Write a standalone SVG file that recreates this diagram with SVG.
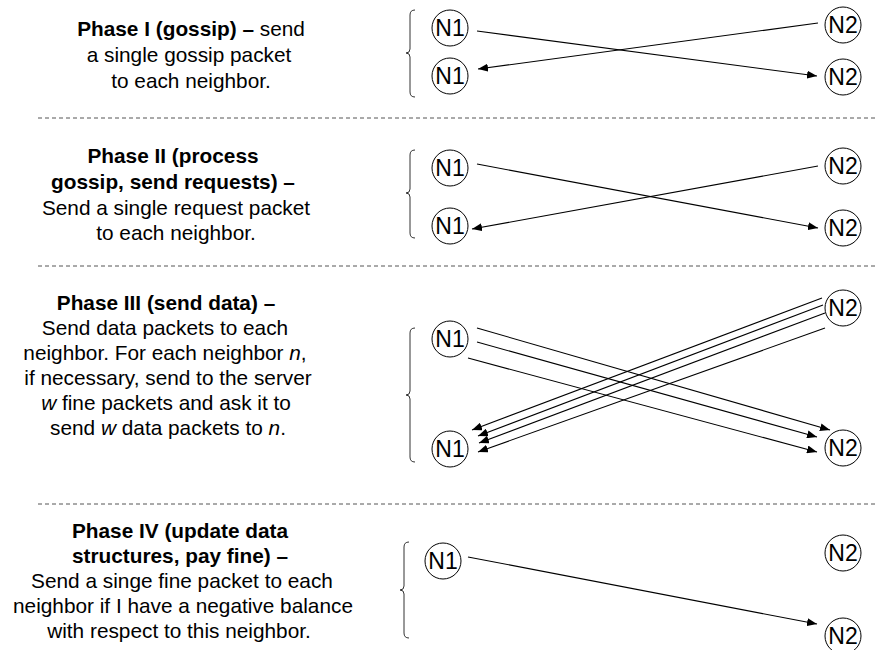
<svg xmlns="http://www.w3.org/2000/svg" width="877" height="650" viewBox="0 0 877 650">
  <defs>
    <marker id="arrow" viewBox="0 0 10 8" refX="10" refY="4" markerWidth="10" markerHeight="8" markerUnits="userSpaceOnUse" orient="auto">
      <path d="M0,0 L10,4 L0,8 Z" fill="#000"/>
    </marker>
    <style>
      .desc { font-family: "Liberation Sans", Arial, sans-serif; font-size: 20.8px; fill: #000; text-anchor: middle; }
      .b { font-weight: bold; }
      .i { font-style: italic; }
      .sep { stroke: #555; stroke-width: 1; stroke-dasharray: 4 3; fill: none; }
      .brace { stroke: #333; stroke-width: 1; fill: none; }
      .node circle { fill: #fff; stroke: #000; stroke-width: 1; }
      .node text { font-family: "Liberation Sans", Arial, sans-serif; font-size: 23px; fill: #000; text-anchor: middle; }
      .msg { stroke: #000; stroke-width: 1.1; fill: none; }
      .msg .arr { marker-end: url(#arrow); }
    </style>
  </defs>
  <rect width="877" height="650" fill="#fff"/>

  <!-- phase separators -->
  <g id="separators">
    <line class="sep" x1="38" y1="118" x2="877" y2="118"/>
    <line class="sep" x1="38" y1="266" x2="877" y2="266"/>
    <line class="sep" x1="38" y1="504" x2="877" y2="504"/>
  </g>

  <!-- phase descriptions -->
  <g id="phase1-text">
    <text class="desc" x="191" y="36"><tspan class="b">Phase I (gossip) –</tspan> send</text>
    <text class="desc" x="189" y="62">a single gossip packet</text>
    <text class="desc" x="191" y="88">to each neighbor.</text>
  </g>
  <g id="phase2-text">
    <text class="desc b" x="173" y="163">Phase II (process</text>
    <text class="desc b" x="173" y="189">gossip, send requests) –</text>
    <text class="desc" x="176" y="215">Send a single request packet</text>
    <text class="desc" x="176" y="240">to each neighbor.</text>
  </g>
  <g id="phase3-text">
    <text class="desc b" x="166" y="310">Phase III (send data) –</text>
    <text class="desc" x="165" y="335">Send data packets to each</text>
    <text class="desc" x="165" y="360">neighbor. For each neighbor <tspan class="i">n</tspan>,</text>
    <text class="desc" x="168" y="385">if necessary, send to the server</text>
    <text class="desc" x="166" y="410"><tspan class="i">w</tspan> fine packets and ask it to</text>
    <text class="desc" x="168" y="435">send <tspan class="i">w</tspan> data packets to <tspan class="i">n</tspan>.</text>
  </g>
  <g id="phase4-text">
    <text class="desc b" x="180" y="538">Phase IV (update data</text>
    <text class="desc b" x="180" y="563">structures, pay fine) –</text>
    <text class="desc" x="182" y="588">Send a singe fine packet to each</text>
    <text class="desc" x="183" y="613">neighbor if I have a negative balance</text>
    <text class="desc" x="179" y="638">with respect to this neighbor.</text>
  </g>

  <!-- braces grouping the two N1 rows of each phase -->
  <g id="braces">
    <path class="brace" d="M415,10 Q410,10 410,15 L410,49 Q410,53 406,53 Q410,53 410,57 L410,92 Q410,97 415,97"/>
    <path class="brace" d="M415,150 Q410,150 410,155 L410,189 Q410,193 406,193 Q410,193 410,197 L410,233 Q410,238 415,238"/>
    <path class="brace" d="M415,328 Q410,328 410,333 L410,391 Q410,395 406,395 Q410,395 410,399 L410,457 Q410,462 415,462"/>
    <path class="brace" d="M409,542 Q404,542 404,547 L404,586 Q404,590 400,590 Q404,590 404,594 L404,633 Q404,638 409,638"/>
  </g>

  <!-- message connectors -->
  <g id="connectors" class="msg">
    <!-- phase I -->
    <line class="arr" x1="477" y1="31" x2="817" y2="76"/>
    <line class="arr" x1="818" y1="23" x2="478" y2="69"/>
    <!-- phase II -->
    <line class="arr" x1="477" y1="164" x2="818" y2="228"/>
    <line class="arr" x1="818" y1="166" x2="472" y2="229"/>
    <!-- phase III: N1 to N2 -->
    <line class="arr" x1="477" y1="328" x2="830" y2="430"/>
    <line class="arr" x1="477" y1="342" x2="817" y2="437"/>
    <line class="arr" x1="468" y1="358" x2="817" y2="452"/>
    <!-- phase III: N2 to N1 -->
    <line class="arr" x1="822" y1="298" x2="472" y2="430"/>
    <line class="arr" x1="823" y1="305" x2="478" y2="436"/>
    <line class="arr" x1="825" y1="313" x2="479" y2="443"/>
    <line class="arr" x1="825" y1="328" x2="478" y2="452"/>
    <!-- phase IV -->
    <line class="arr" x1="468" y1="557" x2="817" y2="624"/>
  </g>

  <!-- nodes -->
  <g id="p1-n1-top" class="node"><circle cx="450" cy="28" r="18"/><text x="450" y="36">N1</text></g>
  <g id="p1-n1-bottom" class="node"><circle cx="450" cy="76" r="18"/><text x="450" y="84">N1</text></g>
  <g id="p1-n2-top" class="node"><circle cx="843" cy="25" r="18"/><text x="843" y="33">N2</text></g>
  <g id="p1-n2-bottom" class="node"><circle cx="843" cy="77" r="18"/><text x="843" y="85">N2</text></g>

  <g id="p2-n1-top" class="node"><circle cx="450" cy="168" r="18"/><text x="450" y="176">N1</text></g>
  <g id="p2-n1-bottom" class="node"><circle cx="450" cy="226" r="18"/><text x="450" y="234">N1</text></g>
  <g id="p2-n2-top" class="node"><circle cx="843" cy="166" r="18"/><text x="843" y="174">N2</text></g>
  <g id="p2-n2-bottom" class="node"><circle cx="843" cy="228" r="18"/><text x="843" y="236">N2</text></g>

  <g id="p3-n1-top" class="node"><circle cx="450" cy="339" r="18"/><text x="450" y="347">N1</text></g>
  <g id="p3-n1-bottom" class="node"><circle cx="450" cy="449" r="18"/><text x="450" y="457">N1</text></g>
  <g id="p3-n2-top" class="node"><circle cx="843" cy="308" r="18"/><text x="843" y="316">N2</text></g>
  <g id="p3-n2-bottom" class="node"><circle cx="843" cy="448" r="18"/><text x="843" y="456">N2</text></g>

  <g id="p4-n1" class="node"><circle cx="443" cy="561" r="18"/><text x="443" y="569">N1</text></g>
  <g id="p4-n2-top" class="node"><circle cx="843" cy="553" r="18"/><text x="843" y="561">N2</text></g>
  <g id="p4-n2-bottom" class="node"><circle cx="843" cy="636" r="18"/><text x="843" y="644">N2</text></g>
</svg>
